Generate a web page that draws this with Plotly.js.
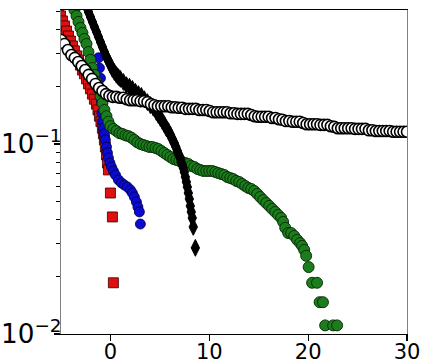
<!DOCTYPE html>
<html><head><meta charset="utf-8">
<script src="https://cdn.plot.ly/plotly-3.0.1.min.js"></script>
<style>html,body{margin:0;padding:0;background:#fff}#chart{width:429px;height:364px}</style>
</head><body><div id="chart"></div>
<script>
// White circles (black edge)
const whiteX = [-5.00,-4.65,-4.30,-3.95,-3.60,-3.25,-2.90,-2.55,-2.20,-1.85,-1.50,-1.15,-0.80,-0.45,-0.10,0.25,0.60,0.95,1.30,1.65,2.00,2.35,2.70,3.05,3.40,3.75,4.10,4.45,4.80,5.15,5.50,5.85,6.20,6.55,6.90,7.25,7.60,7.95,8.30,8.65,9.00,9.35,9.70,10.05,10.40,10.75,11.10,11.45,11.80,12.15,12.50,12.85,13.20,13.55,13.90,14.25,14.60,14.95,15.30,15.65,16.00,16.35,16.70,17.05,17.40,17.75,18.10,18.45,18.80,19.15,19.50,19.85,20.20,20.55,20.90,21.25,21.60,21.95,22.30,22.65,23.00,23.35,23.70,24.05,24.40,24.75,25.10,25.45,25.80,26.15,26.50,26.85,27.20,27.55,27.90,28.25,28.60,28.95,29.30,29.65,30.00];
const whiteY = [0.353,0.336,0.312,0.294,0.284,0.270,0.257,0.245,0.231,0.220,0.207,0.197,0.190,0.183,0.179,0.177,0.177,0.175,0.175,0.172,0.170,0.170,0.170,0.168,0.168,0.166,0.162,0.160,0.158,0.158,0.158,0.158,0.156,0.156,0.155,0.155,0.153,0.153,0.153,0.153,0.151,0.151,0.151,0.149,0.147,0.147,0.147,0.147,0.147,0.145,0.145,0.144,0.144,0.144,0.144,0.142,0.140,0.139,0.139,0.139,0.139,0.137,0.137,0.135,0.134,0.132,0.132,0.131,0.131,0.131,0.129,0.127,0.127,0.127,0.127,0.126,0.126,0.126,0.124,0.123,0.121,0.121,0.121,0.121,0.121,0.120,0.120,0.120,0.120,0.118,0.118,0.117,0.117,0.117,0.117,0.117,0.116,0.116,0.116,0.116,0.116];

// Black diamonds
const blackX = [-2.63,-2.42,-2.22,-2.02,-1.82,-1.62,-1.41,-1.21,-1.01,-0.81,-0.61,-0.40,-0.20,0.00,0.20,0.40,0.61,0.81,1.01,1.31,1.62,1.92,2.22,2.53,2.83,3.13,3.43,3.74,4.04,4.34,4.65,4.85,5.05,5.25,5.45,5.66,5.86,6.06,6.26,6.46,6.62,6.77,6.92,7.07,7.17,7.27,7.37,7.47,7.58,7.68,7.78,7.88,7.98,8.08,8.18,8.28,8.38,8.59];
const blackY = [0.559,0.526,0.495,0.466,0.439,0.413,0.389,0.366,0.344,0.324,0.305,0.287,0.274,0.260,0.248,0.239,0.231,0.225,0.220,0.212,0.204,0.200,0.195,0.188,0.183,0.179,0.172,0.166,0.160,0.155,0.147,0.142,0.137,0.132,0.127,0.121,0.117,0.112,0.106,0.101,0.0964,0.0919,0.0875,0.0844,0.0804,0.0775,0.0748,0.0712,0.0670,0.0631,0.0594,0.0552,0.0514,0.0472,0.0439,0.0408,0.0366,0.0284];

// Green circles
const greenX = [-3.84,-3.64,-3.43,-3.23,-3.03,-2.83,-2.63,-2.42,-2.22,-2.02,-1.82,-1.62,-1.41,-1.21,-1.01,-0.81,-0.61,-0.40,-0.20,0.00,0.30,0.61,0.91,1.21,1.52,1.82,2.12,2.42,2.73,3.03,3.33,3.64,3.94,4.24,4.55,4.85,5.15,5.45,5.76,6.06,6.36,6.67,6.97,7.27,7.58,7.88,8.18,8.48,8.79,9.09,9.39,9.70,10.00,10.30,10.61,10.91,11.21,11.52,11.82,12.12,12.42,12.73,13.03,13.33,13.64,13.94,14.24,14.55,14.85,15.15,15.45,15.76,16.06,16.36,16.67,16.97,17.27,17.47,17.68,17.98,18.28,18.59,18.89,19.19,19.39,19.60,19.80,20.05,20.40,20.90,21.16,21.50,21.72,22.53,22.93];
const greenY = [0.546,0.507,0.472,0.439,0.408,0.384,0.357,0.336,0.305,0.277,0.251,0.231,0.212,0.195,0.179,0.164,0.151,0.140,0.131,0.124,0.120,0.117,0.114,0.113,0.111,0.110,0.108,0.105,0.102,0.100,0.0988,0.0976,0.0964,0.0964,0.0953,0.0941,0.0919,0.0897,0.0875,0.0854,0.0834,0.0824,0.0814,0.0804,0.0794,0.0785,0.0766,0.0757,0.0739,0.0730,0.0721,0.0721,0.0721,0.0721,0.0712,0.0703,0.0695,0.0687,0.0670,0.0662,0.0654,0.0639,0.0631,0.0616,0.0601,0.0587,0.0580,0.0566,0.0546,0.0526,0.0507,0.0489,0.0472,0.0455,0.0439,0.0423,0.0408,0.0389,0.0362,0.0340,0.0340,0.0328,0.0313,0.0301,0.0291,0.0277,0.0258,0.0225,0.0186,0.0186,0.0147,0.0147,0.0111,0.0111,0.0111];

// Red squares
const redX = [-5.45,-5.25,-5.05,-4.85,-4.65,-4.44,-4.24,-4.04,-3.84,-3.64,-3.43,-3.23,-3.03,-2.83,-2.63,-2.42,-2.22,-2.02,-1.82,-1.62,-1.41,-1.26,-1.11,-0.96,-0.81,-0.71,-0.61,-0.51,-0.40,-0.30,-0.20,0.00,0.20,0.30];
const redY = [0.539,0.507,0.472,0.444,0.418,0.393,0.370,0.348,0.328,0.309,0.291,0.277,0.260,0.245,0.234,0.220,0.207,0.195,0.183,0.172,0.162,0.151,0.140,0.131,0.121,0.113,0.105,0.0964,0.0875,0.0794,0.0730,0.0552,0.0413,0.0186];

// Blue circles
const blueX = [-1.21,-1.11,-1.01,-0.96,-0.91,-0.86,-0.81,-0.71,-0.61,-0.51,-0.40,-0.30,-0.20,-0.05,0.10,0.30,0.51,0.81,1.11,1.41,1.72,2.02,2.22,2.42,2.63,2.78,2.93,3.03];
const blueY = [0.284,0.251,0.222,0.192,0.166,0.146,0.131,0.121,0.113,0.105,0.0964,0.0897,0.0844,0.0794,0.0757,0.0721,0.0687,0.0647,0.0624,0.0608,0.0594,0.0573,0.0552,0.0526,0.0495,0.0466,0.0439,0.0379];

const xTicks = [0, 10, 20, 30];

const traces = [
  {x: redX, y: redY, type:'scatter', mode:'markers',
   marker:{symbol:'square', size:10, color:'#e01010', line:{color:'#300000', width:0.8}}},
  {x: blueX, y: blueY, type:'scatter', mode:'markers',
   marker:{symbol:'circle', size:10, color:'#0a0ad0', line:{color:'#000040', width:0.8}}},
  {x: greenX, y: greenY, type:'scatter', mode:'markers',
   marker:{symbol:'circle', size:11, color:'#1b7d1b', line:{color:'#062806', width:0.9}}},
  {x: blackX, y: blackY, type:'scatter', mode:'markers',
   marker:{symbol:'diamond-tall', size:12, color:'#000000', line:{color:'#000000', width:1}}},
  {x: whiteX, y: whiteY, type:'scatter', mode:'markers',
   marker:{symbol:'circle', size:11, color:'#ffffff', line:{color:'#000000', width:1.6}}}
];

const layout = {
  width:429, height:364,
  margin:{l:61, r:22, t:10, b:30},
  paper_bgcolor:'#ffffff', plot_bgcolor:'#ffffff',
  showlegend:false,
  font:{family:'DejaVu Sans', size:21, color:'#000'},
  xaxis:{range:[-5,30], tickvals:xTicks, ticktext:xTicks.map(String),
    ticks:'outside', ticklen:6, tickwidth:1.2, tickcolor:'#000', ticklabelstandoff:-8,
    showline:true, linecolor:'#000', linewidth:1.3, mirror:true,
    showgrid:false, zeroline:false, tickfont:{family:'DejaVu Sans', size:21, color:'#000'}},
  yaxis:{type:'log', range:[-2, -0.295], dtick:1, exponentformat:'power',
    ticks:'outside', ticklen:6, tickwidth:1.2, tickcolor:'#000', ticklabelstandoff:-12,
    minor:{ticks:'outside', ticklen:3.5, tickwidth:1, tickcolor:'#000', showgrid:false},
    showline:true, linecolor:'#808080', linewidth:1.3, mirror:true,
    showgrid:false, zeroline:false, tickfont:{family:'DejaVu Sans', size:21, color:'#000'}}
};

Plotly.newPlot('chart', traces, layout, {staticPlot:true, displayModeBar:false});
</script>
</body></html>
